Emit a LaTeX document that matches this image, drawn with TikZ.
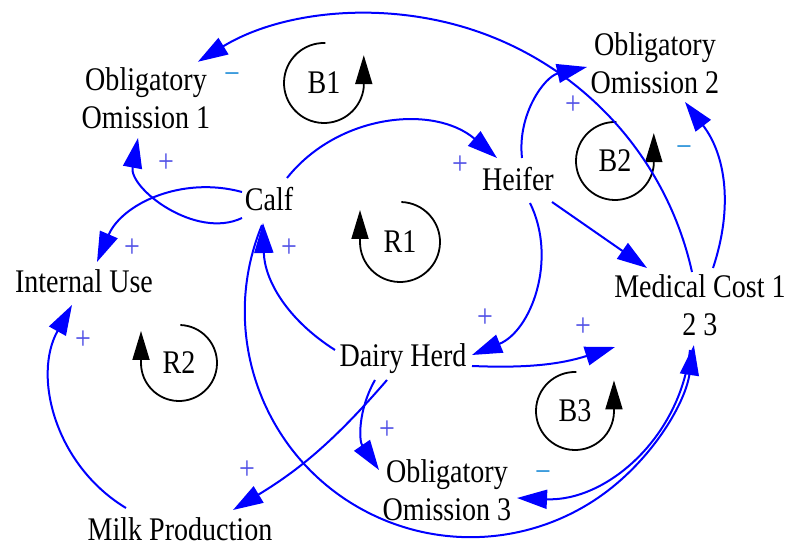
\documentclass[tikz,border=0pt]{standalone}
\usepackage{fontspec}
\setmainfont{Liberation Serif}[FakeStretch=0.85]
\usetikzlibrary{arrows.meta}
\definecolor{conncol}{RGB}{0,0,255}
\definecolor{pluscol}{RGB}{80,80,230}
\definecolor{minuscol}{RGB}{30,140,215}
\begin{document}
\begin{tikzpicture}[x=1pt,y=1pt,
  lbl/.style={font=\fontsize{33}{38}\selectfont, align=center, inner sep=0pt},
  conn/.style={draw=conncol, line width=2pt, -{Triangle[length=30pt,width=19pt]}},
  loopline/.style={draw=black, line width=1.8pt, -{Triangle[length=29pt,width=17pt]}},
  plus/.style={font=\fontsize{33}{38}\selectfont, text=pluscol, inner sep=0pt},
  minus/.style={font=\fontsize{33}{38}\selectfont, text=minuscol, inner sep=0pt}]
\useasboundingbox (0,0) rectangle (790,548);
% variables
\node[lbl] (oo1) at (146,450) {Obligatory\\Omission 1};
\node[lbl] (oo2) at (655,485) {Obligatory\\Omission 2};
\node[lbl] (oo3) at (447,58) {Obligatory\\Omission 3};
\node[lbl] (mc) at (700,243) {Medical Cost 1\\2 3};
\node[lbl] (calf) at (269,349) {Calf};
\node[lbl] (heifer) at (518,369) {Heifer};
\node[lbl] (iu) at (84,267) {Internal Use};
\node[lbl] (dh) at (403,189) {Dairy Herd};
\node[lbl] (mp) at (180,19) {Milk Production};
% loop labels
\node[lbl] (b1) at (324,465) {B1};
\node[lbl] (r1) at (400,306) {R1};
\node[lbl] (b2) at (615,387) {B2};
\node[lbl] (b3) at (575,137) {B3};
\node[lbl] (r2) at (179,185) {R2};
% loop symbols
\draw[loopline] ([shift={(88:40)}]b1.center) arc[start angle=88,end angle=354,radius=40] -- ++(0,32);
\draw[loopline] ([shift={(88:39)}]b2.center) arc[start angle=88,end angle=354,radius=39] -- ++(0,32);
\draw[loopline] ([shift={(88:39)}]b3.center) arc[start angle=88,end angle=358,radius=39] -- ++(0,32);
\draw[loopline] ([shift={(88:40)}]r1.center) arc[start angle=88,end angle=-180,radius=40] -- ++(0,32);
\draw[loopline] ([shift={(88:38)}]r2.center) arc[start angle=88,end angle=-180,radius=38] -- ++(0,32);
% connectors
\draw[conn] ([shift={(-8,33)}]mc.center) arc[start angle=12.5,end angle=121.4,radius=330];
\draw[conn] ([shift={(13,37)}]mc.center) to[bend right=28] ([shift={(30,-39)}]oo2.center);
\draw[conn] ([shift={(4,21)}]heifer.center) to[bend left=42] ([shift={(-68,-4)}]oo2.center);
\draw[conn] ([shift={(34,-23)}]heifer.center) -- ([shift={(-53,37)}]mc.center);
\draw[conn] ([shift={(12,-24)}]heifer.center) to[bend left=47] ([shift={(69,4)}]dh.center);
\draw[conn] ([shift={(18,21)}]calf.center) to[bend left=46] ([shift={(-21,21)}]heifer.center);
\draw[conn] ([shift={(-27,-19)}]calf.center) to[bend left=63] ([shift={(-8,-40)}]oo1.center);
\draw[conn] ([shift={(-27,7)}]calf.center) to[bend right=41] ([shift={(13,19)}]iu.center);
\draw[conn] ([shift={(-68,9)}]dh.center) to[bend left=28] ([shift={(-6,-24)}]calf.center);
\draw[conn] ([shift={(-7,-26)}]calf.center) arc[start angle=157.5,end angle=351.4,radius=225.8];
\draw[conn] ([shift={(69,-7)}]dh.center) to[bend right=10] ([shift={(-85,-42)}]mc.center);
\draw[conn] ([shift={(-28,-21)}]dh.center) to[bend right=32] ([shift={(-68,20)}]oo3.center);
\draw[conn] ([shift={(-16,-21)}]dh.center) to[bend left=9] ([shift={(53,19)}]mp.center);
\draw[conn] ([shift={(-54,21)}]mp.center) to[bend left=44] ([shift={(-12,-24)}]iu.center);
\draw[conn] ([shift={(-10,-45)}]mc.center) to[bend left=43] ([shift={(70,-8)}]oo3.center);
% polarities
\node[minus] (s1) at (232,469) {−};
\node[plus] (s2) at (166,385) {+};
\node[plus] (s3) at (132,300) {+};
\node[plus] (s4) at (289,300) {+};
\node[plus] (s5) at (460,383) {+};
\node[plus] (s6) at (573,443) {+};
\node[minus] (s7) at (684,396) {−};
\node[plus] (s8) at (485,230) {+};
\node[plus] (s9) at (583,221) {+};
\node[plus] (s10) at (83,208) {+};
\node[plus] (s11) at (247,78) {+};
\node[plus] (s12) at (387,118) {+};
\node[minus] (s13) at (543,71) {−};
\end{tikzpicture}
\end{document}
